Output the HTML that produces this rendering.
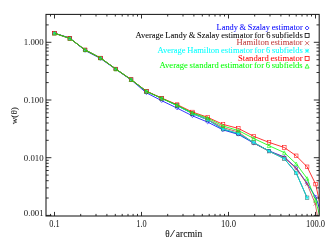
<!DOCTYPE html>
<html><head><meta charset="utf-8"><title>plot</title>
<style>html,body{margin:0;padding:0;background:#fff}svg{display:block;will-change:transform;font-family:"Liberation Serif",serif}</style></head>
<body><svg width="333" height="245" viewBox="0 0 333 245">
<rect width="333" height="245" fill="#fff"/>
<defs><clipPath id="c"><rect x="46.0" y="14.4" width="273.2" height="201.6"/></clipPath></defs>
<g clip-path="url(#c)">
<polyline points="54.5,33.2 69.8,38.0 85.1,50.5 100.5,58.5 115.8,69.3 131.1,79.9 146.4,92.8 161.7,100.7 177.1,108.1 192.4,115.8 207.7,122.1 223.0,129.9 238.3,134.4 253.7,143.1 269.0,150.9 284.3,157.0 296.2,167.9 307.1,183.4 315.6,196.8 322.4,217.0" fill="none" stroke="#0000ff" stroke-width="0.8"/>
<path d="M52.7,33.2L54.5,31.4L56.3,33.2L54.5,35.0Z" fill="none" stroke="#0000ff" stroke-width="0.55"/>
<path d="M68.0,38.0L69.8,36.2L71.6,38.0L69.8,39.8Z" fill="none" stroke="#0000ff" stroke-width="0.55"/>
<path d="M83.3,50.5L85.1,48.7L86.9,50.5L85.1,52.3Z" fill="none" stroke="#0000ff" stroke-width="0.55"/>
<path d="M98.7,58.5L100.5,56.7L102.3,58.5L100.5,60.3Z" fill="none" stroke="#0000ff" stroke-width="0.55"/>
<path d="M114.0,69.3L115.8,67.5L117.6,69.3L115.8,71.1Z" fill="none" stroke="#0000ff" stroke-width="0.55"/>
<path d="M129.3,79.9L131.1,78.1L132.9,79.9L131.1,81.7Z" fill="none" stroke="#0000ff" stroke-width="0.55"/>
<path d="M144.6,92.8L146.4,91.0L148.2,92.8L146.4,94.6Z" fill="none" stroke="#0000ff" stroke-width="0.55"/>
<path d="M159.9,100.7L161.7,98.9L163.5,100.7L161.7,102.5Z" fill="none" stroke="#0000ff" stroke-width="0.55"/>
<path d="M175.3,108.1L177.1,106.3L178.9,108.1L177.1,109.9Z" fill="none" stroke="#0000ff" stroke-width="0.55"/>
<path d="M190.6,115.8L192.4,114.0L194.2,115.8L192.4,117.6Z" fill="none" stroke="#0000ff" stroke-width="0.55"/>
<path d="M205.9,122.1L207.7,120.3L209.5,122.1L207.7,123.9Z" fill="none" stroke="#0000ff" stroke-width="0.55"/>
<path d="M221.2,129.9L223.0,128.1L224.8,129.9L223.0,131.7Z" fill="none" stroke="#0000ff" stroke-width="0.55"/>
<path d="M236.5,134.4L238.3,132.6L240.1,134.4L238.3,136.2Z" fill="none" stroke="#0000ff" stroke-width="0.55"/>
<path d="M251.9,143.1L253.7,141.3L255.5,143.1L253.7,144.9Z" fill="none" stroke="#0000ff" stroke-width="0.55"/>
<path d="M267.2,150.9L269.0,149.1L270.8,150.9L269.0,152.7Z" fill="none" stroke="#0000ff" stroke-width="0.55"/>
<path d="M282.5,157.0L284.3,155.2L286.1,157.0L284.3,158.8Z" fill="none" stroke="#0000ff" stroke-width="0.55"/>
<path d="M294.4,167.9L296.2,166.1L298.0,167.9L296.2,169.7Z" fill="none" stroke="#0000ff" stroke-width="0.55"/>
<path d="M305.3,183.4L307.1,181.6L308.9,183.4L307.1,185.2Z" fill="none" stroke="#0000ff" stroke-width="0.55"/>
<path d="M313.8,196.8L315.6,195.0L317.4,196.8L315.6,198.6Z" fill="none" stroke="#0000ff" stroke-width="0.55"/>
<polyline points="54.5,33.2 69.8,38.4 85.1,49.9 100.5,58.0 115.8,69.0 131.1,79.6 146.4,91.4 161.7,98.3 177.1,105.6 192.4,113.6 207.7,119.8 223.0,129.1 238.3,133.6 253.7,142.5 269.0,151.1 284.3,158.6 296.2,172.9 307.1,197.8" fill="none" stroke="#000000" stroke-width="0.8"/>
<rect x="52.7" y="31.4" width="3.6" height="3.6" fill="none" stroke="#000000" stroke-width="0.4"/>
<rect x="68.0" y="36.6" width="3.6" height="3.6" fill="none" stroke="#000000" stroke-width="0.4"/>
<rect x="83.3" y="48.1" width="3.6" height="3.6" fill="none" stroke="#000000" stroke-width="0.4"/>
<rect x="98.7" y="56.2" width="3.6" height="3.6" fill="none" stroke="#000000" stroke-width="0.4"/>
<rect x="114.0" y="67.2" width="3.6" height="3.6" fill="none" stroke="#000000" stroke-width="0.4"/>
<rect x="129.3" y="77.8" width="3.6" height="3.6" fill="none" stroke="#000000" stroke-width="0.4"/>
<rect x="144.6" y="89.6" width="3.6" height="3.6" fill="none" stroke="#000000" stroke-width="0.4"/>
<rect x="159.9" y="96.5" width="3.6" height="3.6" fill="none" stroke="#000000" stroke-width="0.4"/>
<rect x="175.3" y="103.8" width="3.6" height="3.6" fill="none" stroke="#000000" stroke-width="0.4"/>
<rect x="190.6" y="111.8" width="3.6" height="3.6" fill="none" stroke="#000000" stroke-width="0.4"/>
<rect x="205.9" y="118.0" width="3.6" height="3.6" fill="none" stroke="#000000" stroke-width="0.4"/>
<rect x="221.2" y="127.3" width="3.6" height="3.6" fill="none" stroke="#000000" stroke-width="0.4"/>
<rect x="236.5" y="131.8" width="3.6" height="3.6" fill="none" stroke="#000000" stroke-width="0.4"/>
<rect x="251.9" y="140.7" width="3.6" height="3.6" fill="none" stroke="#000000" stroke-width="0.4"/>
<rect x="267.2" y="149.3" width="3.6" height="3.6" fill="none" stroke="#000000" stroke-width="0.4"/>
<rect x="282.5" y="156.8" width="3.6" height="3.6" fill="none" stroke="#000000" stroke-width="0.4"/>
<rect x="294.4" y="171.1" width="3.6" height="3.6" fill="none" stroke="#000000" stroke-width="0.4"/>
<rect x="305.3" y="196.0" width="3.6" height="3.6" fill="none" stroke="#000000" stroke-width="0.4"/>
<polyline points="54.5,33.2 69.8,38.4 85.1,49.9 100.5,58.0 115.8,69.0 131.1,79.6 146.4,91.4 161.7,98.2 177.1,105.3 192.4,113.2 207.7,119.3 223.0,127.6 238.3,132.0 253.7,142.9 269.0,151.3 284.3,157.5 296.2,168.5 307.1,184.0 315.3,203.8 322.4,245.0" fill="none" stroke="#c03c3c" stroke-width="0.8"/>
<path d="M52.7,31.4L56.3,35.0M52.7,35.0L56.3,31.4" fill="none" stroke="#c03c3c" stroke-width="0.55"/>
<path d="M68.0,36.6L71.6,40.2M68.0,40.2L71.6,36.6" fill="none" stroke="#c03c3c" stroke-width="0.55"/>
<path d="M83.3,48.1L86.9,51.7M83.3,51.7L86.9,48.1" fill="none" stroke="#c03c3c" stroke-width="0.55"/>
<path d="M98.7,56.2L102.3,59.8M98.7,59.8L102.3,56.2" fill="none" stroke="#c03c3c" stroke-width="0.55"/>
<path d="M114.0,67.2L117.6,70.8M114.0,70.8L117.6,67.2" fill="none" stroke="#c03c3c" stroke-width="0.55"/>
<path d="M129.3,77.8L132.9,81.4M129.3,81.4L132.9,77.8" fill="none" stroke="#c03c3c" stroke-width="0.55"/>
<path d="M144.6,89.6L148.2,93.2M144.6,93.2L148.2,89.6" fill="none" stroke="#c03c3c" stroke-width="0.55"/>
<path d="M159.9,96.4L163.5,100.0M159.9,100.0L163.5,96.4" fill="none" stroke="#c03c3c" stroke-width="0.55"/>
<path d="M175.3,103.5L178.9,107.1M175.3,107.1L178.9,103.5" fill="none" stroke="#c03c3c" stroke-width="0.55"/>
<path d="M190.6,111.4L194.2,115.0M190.6,115.0L194.2,111.4" fill="none" stroke="#c03c3c" stroke-width="0.55"/>
<path d="M205.9,117.5L209.5,121.1M205.9,121.1L209.5,117.5" fill="none" stroke="#c03c3c" stroke-width="0.55"/>
<path d="M221.2,125.8L224.8,129.4M221.2,129.4L224.8,125.8" fill="none" stroke="#c03c3c" stroke-width="0.55"/>
<path d="M236.5,130.2L240.1,133.8M236.5,133.8L240.1,130.2" fill="none" stroke="#c03c3c" stroke-width="0.55"/>
<path d="M251.9,141.1L255.5,144.7M251.9,144.7L255.5,141.1" fill="none" stroke="#c03c3c" stroke-width="0.55"/>
<path d="M267.2,149.5L270.8,153.1M267.2,153.1L270.8,149.5" fill="none" stroke="#c03c3c" stroke-width="0.55"/>
<path d="M282.5,155.7L286.1,159.3M282.5,159.3L286.1,155.7" fill="none" stroke="#c03c3c" stroke-width="0.55"/>
<path d="M294.4,166.7L298.0,170.3M294.4,170.3L298.0,166.7" fill="none" stroke="#c03c3c" stroke-width="0.55"/>
<path d="M305.3,182.2L308.9,185.8M305.3,185.8L308.9,182.2" fill="none" stroke="#c03c3c" stroke-width="0.55"/>
<path d="M313.5,202.0L317.1,205.6M313.5,205.6L317.1,202.0" fill="none" stroke="#c03c3c" stroke-width="0.55"/>
<polyline points="54.5,33.2 69.8,38.4 85.1,49.9 100.5,58.0 115.8,69.0 131.1,79.6 146.4,91.4 161.7,98.3 177.1,105.6 192.4,113.6 207.7,119.8 223.0,129.1 238.3,133.6 253.7,142.5 269.0,151.1 284.3,158.6 296.2,172.9 307.1,197.8" fill="none" stroke="#00ffff" stroke-width="0.8"/>
<path d="M52.7,31.4L56.3,35.0M52.7,35.0L56.3,31.4M52.7,33.2L56.3,33.2M54.5,31.4L54.5,35.0" fill="none" stroke="#00ffff" stroke-width="0.55"/>
<path d="M68.0,36.6L71.6,40.2M68.0,40.2L71.6,36.6M68.0,38.4L71.6,38.4M69.8,36.6L69.8,40.2" fill="none" stroke="#00ffff" stroke-width="0.55"/>
<path d="M83.3,48.1L86.9,51.7M83.3,51.7L86.9,48.1M83.3,49.9L86.9,49.9M85.1,48.1L85.1,51.7" fill="none" stroke="#00ffff" stroke-width="0.55"/>
<path d="M98.7,56.2L102.3,59.8M98.7,59.8L102.3,56.2M98.7,58.0L102.3,58.0M100.5,56.2L100.5,59.8" fill="none" stroke="#00ffff" stroke-width="0.55"/>
<path d="M114.0,67.2L117.6,70.8M114.0,70.8L117.6,67.2M114.0,69.0L117.6,69.0M115.8,67.2L115.8,70.8" fill="none" stroke="#00ffff" stroke-width="0.55"/>
<path d="M129.3,77.8L132.9,81.4M129.3,81.4L132.9,77.8M129.3,79.6L132.9,79.6M131.1,77.8L131.1,81.4" fill="none" stroke="#00ffff" stroke-width="0.55"/>
<path d="M144.6,89.6L148.2,93.2M144.6,93.2L148.2,89.6M144.6,91.4L148.2,91.4M146.4,89.6L146.4,93.2" fill="none" stroke="#00ffff" stroke-width="0.55"/>
<path d="M159.9,96.5L163.5,100.1M159.9,100.1L163.5,96.5M159.9,98.3L163.5,98.3M161.7,96.5L161.7,100.1" fill="none" stroke="#00ffff" stroke-width="0.55"/>
<path d="M175.3,103.8L178.9,107.4M175.3,107.4L178.9,103.8M175.3,105.6L178.9,105.6M177.1,103.8L177.1,107.4" fill="none" stroke="#00ffff" stroke-width="0.55"/>
<path d="M190.6,111.8L194.2,115.4M190.6,115.4L194.2,111.8M190.6,113.6L194.2,113.6M192.4,111.8L192.4,115.4" fill="none" stroke="#00ffff" stroke-width="0.55"/>
<path d="M205.9,118.0L209.5,121.6M205.9,121.6L209.5,118.0M205.9,119.8L209.5,119.8M207.7,118.0L207.7,121.6" fill="none" stroke="#00ffff" stroke-width="0.55"/>
<path d="M221.2,127.3L224.8,130.9M221.2,130.9L224.8,127.3M221.2,129.1L224.8,129.1M223.0,127.3L223.0,130.9" fill="none" stroke="#00ffff" stroke-width="0.55"/>
<path d="M236.5,131.8L240.1,135.4M236.5,135.4L240.1,131.8M236.5,133.6L240.1,133.6M238.3,131.8L238.3,135.4" fill="none" stroke="#00ffff" stroke-width="0.55"/>
<path d="M251.9,140.7L255.5,144.3M251.9,144.3L255.5,140.7M251.9,142.5L255.5,142.5M253.7,140.7L253.7,144.3" fill="none" stroke="#00ffff" stroke-width="0.55"/>
<path d="M267.2,149.3L270.8,152.9M267.2,152.9L270.8,149.3M267.2,151.1L270.8,151.1M269.0,149.3L269.0,152.9" fill="none" stroke="#00ffff" stroke-width="0.55"/>
<path d="M282.5,156.8L286.1,160.4M282.5,160.4L286.1,156.8M282.5,158.6L286.1,158.6M284.3,156.8L284.3,160.4" fill="none" stroke="#00ffff" stroke-width="0.55"/>
<path d="M294.4,171.1L298.0,174.7M294.4,174.7L298.0,171.1M294.4,172.9L298.0,172.9M296.2,171.1L296.2,174.7" fill="none" stroke="#00ffff" stroke-width="0.55"/>
<path d="M305.3,196.0L308.9,199.6M305.3,199.6L308.9,196.0M305.3,197.8L308.9,197.8M307.1,196.0L307.1,199.6" fill="none" stroke="#00ffff" stroke-width="0.55"/>
<polyline points="54.5,33.2 69.8,38.4 85.1,49.9 100.5,58.0 115.8,69.0 131.1,79.6 146.4,91.1 161.7,98.1 177.1,104.6 192.4,112.0 207.7,117.3 223.0,124.4 238.3,128.4 253.7,136.3 269.0,142.4 284.3,147.5 296.2,155.8 307.1,166.8 315.6,184.1 322.4,215.0" fill="none" stroke="#ff0000" stroke-width="0.8"/>
<rect x="52.7" y="31.4" width="3.6" height="3.6" fill="none" stroke="#ff0000" stroke-width="0.55"/>
<rect x="68.0" y="36.6" width="3.6" height="3.6" fill="none" stroke="#ff0000" stroke-width="0.55"/>
<rect x="83.3" y="48.1" width="3.6" height="3.6" fill="none" stroke="#ff0000" stroke-width="0.55"/>
<rect x="98.7" y="56.2" width="3.6" height="3.6" fill="none" stroke="#ff0000" stroke-width="0.55"/>
<rect x="114.0" y="67.2" width="3.6" height="3.6" fill="none" stroke="#ff0000" stroke-width="0.55"/>
<rect x="129.3" y="77.8" width="3.6" height="3.6" fill="none" stroke="#ff0000" stroke-width="0.55"/>
<rect x="144.6" y="89.3" width="3.6" height="3.6" fill="none" stroke="#ff0000" stroke-width="0.55"/>
<rect x="159.9" y="96.3" width="3.6" height="3.6" fill="none" stroke="#ff0000" stroke-width="0.55"/>
<rect x="175.3" y="102.8" width="3.6" height="3.6" fill="none" stroke="#ff0000" stroke-width="0.55"/>
<rect x="190.6" y="110.2" width="3.6" height="3.6" fill="none" stroke="#ff0000" stroke-width="0.55"/>
<rect x="205.9" y="115.5" width="3.6" height="3.6" fill="none" stroke="#ff0000" stroke-width="0.55"/>
<rect x="221.2" y="122.6" width="3.6" height="3.6" fill="none" stroke="#ff0000" stroke-width="0.55"/>
<rect x="236.5" y="126.6" width="3.6" height="3.6" fill="none" stroke="#ff0000" stroke-width="0.55"/>
<rect x="251.9" y="134.5" width="3.6" height="3.6" fill="none" stroke="#ff0000" stroke-width="0.55"/>
<rect x="267.2" y="140.6" width="3.6" height="3.6" fill="none" stroke="#ff0000" stroke-width="0.55"/>
<rect x="282.5" y="145.7" width="3.6" height="3.6" fill="none" stroke="#ff0000" stroke-width="0.55"/>
<rect x="294.4" y="154.0" width="3.6" height="3.6" fill="none" stroke="#ff0000" stroke-width="0.55"/>
<rect x="305.3" y="165.0" width="3.6" height="3.6" fill="none" stroke="#ff0000" stroke-width="0.55"/>
<rect x="313.8" y="182.3" width="3.6" height="3.6" fill="none" stroke="#ff0000" stroke-width="0.55"/>
<rect x="320.6" y="213.2" width="3.6" height="3.6" fill="none" stroke="#ff0000" stroke-width="0.55"/>
<polyline points="54.5,33.2 69.8,38.4 85.1,49.9 100.5,58.0 115.8,69.0 131.1,79.6 146.4,91.3 161.7,98.3 177.1,105.2 192.4,112.9 207.7,118.1 223.0,126.0 238.3,130.5 253.7,138.4 269.0,145.7 284.3,152.6 296.2,163.8 307.1,178.5 315.6,200.2 322.4,226.0" fill="none" stroke="#00ff00" stroke-width="0.8"/>
<path d="M52.7,35.0L54.5,31.4L56.3,35.0Z" fill="none" stroke="#00ff00" stroke-width="0.55"/>
<path d="M68.0,40.2L69.8,36.6L71.6,40.2Z" fill="none" stroke="#00ff00" stroke-width="0.55"/>
<path d="M83.3,51.7L85.1,48.1L86.9,51.7Z" fill="none" stroke="#00ff00" stroke-width="0.55"/>
<path d="M98.7,59.8L100.5,56.2L102.3,59.8Z" fill="none" stroke="#00ff00" stroke-width="0.55"/>
<path d="M114.0,70.8L115.8,67.2L117.6,70.8Z" fill="none" stroke="#00ff00" stroke-width="0.55"/>
<path d="M129.3,81.4L131.1,77.8L132.9,81.4Z" fill="none" stroke="#00ff00" stroke-width="0.55"/>
<path d="M144.6,93.1L146.4,89.5L148.2,93.1Z" fill="none" stroke="#00ff00" stroke-width="0.55"/>
<path d="M159.9,100.1L161.7,96.5L163.5,100.1Z" fill="none" stroke="#00ff00" stroke-width="0.55"/>
<path d="M175.3,107.0L177.1,103.4L178.9,107.0Z" fill="none" stroke="#00ff00" stroke-width="0.55"/>
<path d="M190.6,114.7L192.4,111.1L194.2,114.7Z" fill="none" stroke="#00ff00" stroke-width="0.55"/>
<path d="M205.9,119.9L207.7,116.3L209.5,119.9Z" fill="none" stroke="#00ff00" stroke-width="0.55"/>
<path d="M221.2,127.8L223.0,124.2L224.8,127.8Z" fill="none" stroke="#00ff00" stroke-width="0.55"/>
<path d="M236.5,132.3L238.3,128.7L240.1,132.3Z" fill="none" stroke="#00ff00" stroke-width="0.55"/>
<path d="M251.9,140.2L253.7,136.6L255.5,140.2Z" fill="none" stroke="#00ff00" stroke-width="0.55"/>
<path d="M267.2,147.5L269.0,143.9L270.8,147.5Z" fill="none" stroke="#00ff00" stroke-width="0.55"/>
<path d="M282.5,154.4L284.3,150.8L286.1,154.4Z" fill="none" stroke="#00ff00" stroke-width="0.55"/>
<path d="M294.4,165.6L296.2,162.0L298.0,165.6Z" fill="none" stroke="#00ff00" stroke-width="0.55"/>
<path d="M305.3,180.3L307.1,176.7L308.9,180.3Z" fill="none" stroke="#00ff00" stroke-width="0.55"/>
<path d="M313.8,202.0L315.6,198.4L317.4,202.0Z" fill="none" stroke="#00ff00" stroke-width="0.55"/>
</g>
<rect x="46.0" y="14.4" width="273.2" height="201.6" fill="none" stroke="#1a1a1a" stroke-width="1.05"/>
<path d="M50.5,216.0v-2.1M50.5,14.4v2.1M54.5,216.0v-4.1M54.5,14.4v4.1M80.7,216.0v-2.1M80.7,14.4v2.1M96.0,216.0v-2.1M96.0,14.4v2.1M106.9,216.0v-2.1M106.9,14.4v2.1M115.3,216.0v-2.1M115.3,14.4v2.1M122.2,216.0v-2.1M122.2,14.4v2.1M128.0,216.0v-2.1M128.0,14.4v2.1M133.1,216.0v-2.1M133.1,14.4v2.1M137.5,216.0v-2.1M137.5,14.4v2.1M141.5,216.0v-4.1M141.5,14.4v4.1M167.7,216.0v-2.1M167.7,14.4v2.1M183.0,216.0v-2.1M183.0,14.4v2.1M193.9,216.0v-2.1M193.9,14.4v2.1M202.3,216.0v-2.1M202.3,14.4v2.1M209.2,216.0v-2.1M209.2,14.4v2.1M215.0,216.0v-2.1M215.0,14.4v2.1M220.1,216.0v-2.1M220.1,14.4v2.1M224.5,216.0v-2.1M224.5,14.4v2.1M228.5,216.0v-4.1M228.5,14.4v4.1M254.7,216.0v-2.1M254.7,14.4v2.1M270.0,216.0v-2.1M270.0,14.4v2.1M280.9,216.0v-2.1M280.9,14.4v2.1M289.3,216.0v-2.1M289.3,14.4v2.1M296.2,216.0v-2.1M296.2,14.4v2.1M302.0,216.0v-2.1M302.0,14.4v2.1M307.1,216.0v-2.1M307.1,14.4v2.1M311.5,216.0v-2.1M311.5,14.4v2.1M315.5,216.0v-4.1M315.5,14.4v4.1M46.0,215.4h5.4M319.2,215.4h-5.4M46.0,198.0h2.7M319.2,198.0h-2.7M46.0,187.9h2.7M319.2,187.9h-2.7M46.0,180.7h2.7M319.2,180.7h-2.7M46.0,175.1h2.7M319.2,175.1h-2.7M46.0,170.5h2.7M319.2,170.5h-2.7M46.0,166.6h2.7M319.2,166.6h-2.7M46.0,163.3h2.7M319.2,163.3h-2.7M46.0,160.3h2.7M319.2,160.3h-2.7M46.0,157.7h5.4M319.2,157.7h-5.4M46.0,140.3h2.7M319.2,140.3h-2.7M46.0,130.2h2.7M319.2,130.2h-2.7M46.0,123.0h2.7M319.2,123.0h-2.7M46.0,117.4h2.7M319.2,117.4h-2.7M46.0,112.8h2.7M319.2,112.8h-2.7M46.0,108.9h2.7M319.2,108.9h-2.7M46.0,105.6h2.7M319.2,105.6h-2.7M46.0,102.6h2.7M319.2,102.6h-2.7M46.0,100.0h5.4M319.2,100.0h-5.4M46.0,82.6h2.7M319.2,82.6h-2.7M46.0,72.5h2.7M319.2,72.5h-2.7M46.0,65.3h2.7M319.2,65.3h-2.7M46.0,59.7h2.7M319.2,59.7h-2.7M46.0,55.1h2.7M319.2,55.1h-2.7M46.0,51.2h2.7M319.2,51.2h-2.7M46.0,47.9h2.7M319.2,47.9h-2.7M46.0,44.9h2.7M319.2,44.9h-2.7M46.0,42.3h5.4M319.2,42.3h-5.4M46.0,24.9h2.7M319.2,24.9h-2.7" stroke="#1a1a1a" stroke-width="0.9" fill="none"/>
<text x="43.6" y="45.3" text-anchor="end" fill="#151515" font-size="9.2" textLength="19.8" lengthAdjust="spacingAndGlyphs">1.000</text>
<text x="43.6" y="103.0" text-anchor="end" fill="#151515" font-size="9.2" textLength="19.8" lengthAdjust="spacingAndGlyphs">0.100</text>
<text x="43.6" y="160.7" text-anchor="end" fill="#151515" font-size="9.2" textLength="19.8" lengthAdjust="spacingAndGlyphs">0.010</text>
<text x="43.6" y="215.7" text-anchor="end" fill="#151515" font-size="9.2" textLength="19.8" lengthAdjust="spacingAndGlyphs">0.001</text>
<text x="54.5" y="227.3" text-anchor="middle" fill="#151515" font-size="9.5" textLength="10.4" lengthAdjust="spacingAndGlyphs">0.1</text>
<text x="141.5" y="227.3" text-anchor="middle" fill="#151515" font-size="9.5" textLength="10.4" lengthAdjust="spacingAndGlyphs">1.0</text>
<text x="228.5" y="227.3" text-anchor="middle" fill="#151515" font-size="9.5" textLength="15.1" lengthAdjust="spacingAndGlyphs">10.0</text>
<text x="315.5" y="227.3" text-anchor="middle" fill="#151515" font-size="9.5" textLength="19.2" lengthAdjust="spacingAndGlyphs">100.0</text>
<text x="165.2" y="236.5" text-anchor="start" fill="#151515" font-size="9.3" textLength="4.4" lengthAdjust="spacingAndGlyphs" stroke="#151515" stroke-width="0.08">θ</text>
<text x="169.9" y="236.5" text-anchor="start" fill="#151515" font-size="9.3" textLength="5.0" lengthAdjust="spacingAndGlyphs">/</text>
<text x="175.7" y="236.5" text-anchor="start" fill="#151515" font-size="9.3" textLength="26.6" lengthAdjust="spacingAndGlyphs" stroke="#151515" stroke-width="0.08">arcmin</text>
<text transform="translate(17.2,115.7) rotate(-90)" text-anchor="middle" fill="#151515" font-size="9.2" textLength="17.3" stroke="#151515" stroke-width="0.08" lengthAdjust="spacingAndGlyphs">w(θ)</text>
<text x="302.7" y="30.1" text-anchor="end" fill="#0000ff" font-size="8.2" textLength="86.1" lengthAdjust="spacingAndGlyphs" word-spacing="-0.4" stroke="#0000ff" stroke-width="0.04">Landy &amp; Szalay estimator</text>
<path d="M305.1,28.0L307.1,26.0L309.1,28.0L307.1,30.0Z" fill="none" stroke="#0000ff" stroke-width="0.75"/>
<text x="302.7" y="37.8" text-anchor="end" fill="#000000" font-size="8.2" textLength="167.2" lengthAdjust="spacingAndGlyphs" word-spacing="-0.4" stroke="#000000" stroke-width="0.04">Average Landy &amp; Szalay estimator for 6 subfields</text>
<rect x="305.1" y="33.6" width="4.0" height="4.0" fill="none" stroke="#000000" stroke-width="0.75"/>
<text x="302.7" y="45.3" text-anchor="end" fill="#c03c3c" font-size="8.2" textLength="66.2" lengthAdjust="spacingAndGlyphs" word-spacing="-0.4" stroke="#c03c3c" stroke-width="0.04">Hamilton estimator</text>
<path d="M305.1,41.2L309.1,45.2M305.1,45.2L309.1,41.2" fill="none" stroke="#c03c3c" stroke-width="0.75"/>
<text x="302.7" y="52.9" text-anchor="end" fill="#00ffff" font-size="8.2" textLength="145.3" lengthAdjust="spacingAndGlyphs" word-spacing="-0.4" stroke="#00ffff" stroke-width="0.04">Average Hamilton estimator for 6 subfields</text>
<path d="M305.1,48.8L309.1,52.8M305.1,52.8L309.1,48.8M305.1,50.8L309.1,50.8M307.1,48.8L307.1,52.8" fill="none" stroke="#00ffff" stroke-width="0.75"/>
<text x="302.7" y="60.5" text-anchor="end" fill="#ff0000" font-size="8.2" textLength="64.7" lengthAdjust="spacingAndGlyphs" word-spacing="-0.4" stroke="#ff0000" stroke-width="0.04">Standard estimator</text>
<rect x="305.1" y="56.4" width="4.0" height="4.0" fill="none" stroke="#ff0000" stroke-width="0.75"/>
<text x="302.7" y="68.2" text-anchor="end" fill="#00ff00" font-size="8.2" textLength="143.2" lengthAdjust="spacingAndGlyphs" word-spacing="-0.4" stroke="#00ff00" stroke-width="0.04">Average standard estimator for 6 subfields</text>
<path d="M305.1,68.1L307.1,64.1L309.1,68.1Z" fill="none" stroke="#00ff00" stroke-width="0.75"/>
</svg></body></html>
